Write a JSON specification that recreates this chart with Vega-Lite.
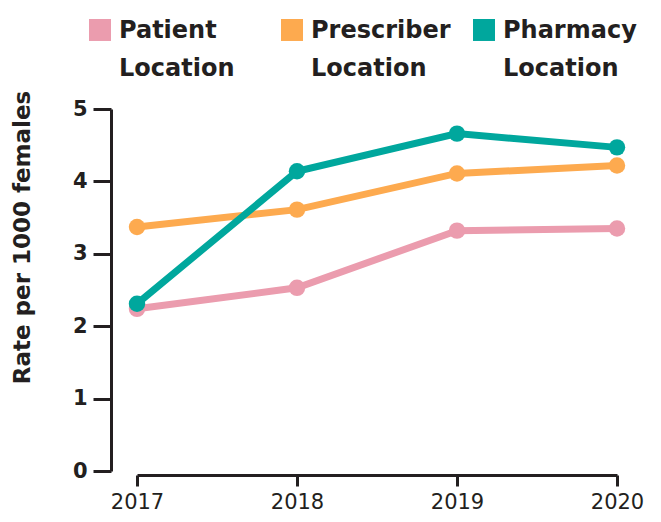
{
  "$schema": "https://vega.github.io/schema/vega-lite/v6.json",
  "width": 480,
  "height": 362,
  "autosize": {"type": "none"},
  "padding": {"left": 137, "top": 109, "right": 44, "bottom": 51},
  "background": "white",
  "config": {
    "view": {"stroke": null},
    "font": "DejaVu Sans",
    "style": {"guide-label": {"lineHeight": 38}}
  },
  "data": {
    "values": [
      {"series": "Patient Location", "year": "2017", "rate": 2.24},
      {"series": "Patient Location", "year": "2018", "rate": 2.53},
      {"series": "Patient Location", "year": "2019", "rate": 3.32},
      {"series": "Patient Location", "year": "2020", "rate": 3.35},
      {"series": "Prescriber Location", "year": "2017", "rate": 3.37},
      {"series": "Prescriber Location", "year": "2018", "rate": 3.61},
      {"series": "Prescriber Location", "year": "2019", "rate": 4.11},
      {"series": "Prescriber Location", "year": "2020", "rate": 4.22},
      {"series": "Pharmacy Location", "year": "2017", "rate": 2.31},
      {"series": "Pharmacy Location", "year": "2018", "rate": 4.14},
      {"series": "Pharmacy Location", "year": "2019", "rate": 4.66},
      {"series": "Pharmacy Location", "year": "2020", "rate": 4.47}
    ]
  },
  "mark": {"type": "line", "strokeWidth": 7, "point": {"filled": true, "size": 270, "opacity": 1}},
  "encoding": {
    "x": {
      "field": "year", "type": "ordinal",
      "scale": {"type": "point", "padding": 0},
      "axis": {
        "title": null, "labelAngle": 0, "offset": 4, "tickSize": 11, "tickWidth": 3, "domainWidth": 3,
        "domainColor": "#231f20", "tickColor": "#231f20", "labelColor": "#231f20",
        "labelFontSize": 21, "labelFontWeight": "normal", "labelPadding": 5, "grid": false
      }
    },
    "y": {
      "field": "rate", "type": "quantitative",
      "scale": {"domain": [0, 5]},
      "axis": {
        "title": "Rate per 1000 females", "values": [0, 1, 2, 3, 4, 5], "grid": false,
        "offset": 26, "tickSize": 18, "tickWidth": 3, "domainWidth": 3,
        "domainColor": "#231f20", "tickColor": "#231f20", "labelColor": "#231f20",
        "labelFontSize": 21, "labelFontWeight": "bold", "labelPadding": 6,
        "titleFontSize": 23, "titleFontWeight": "bold", "titleColor": "#231f20",
        "titleX": -89, "titleY": 128, "titleBaseline": "middle"
      }
    },
    "color": {
      "field": "series", "type": "nominal",
      "scale": {
        "domain": ["Patient Location", "Prescriber Location", "Pharmacy Location"],
        "range": ["#eb9cae", "#fdaa4f", "#00a79d"]
      },
      "legend": {
        "title": null, "orient": "none", "legendX": -49, "legendY": -83,
        "direction": "horizontal", "columns": 3, "gridAlign": "all", "columnPadding": 21,
        "symbolType": "M-1,-1.73H1V0.27H-1Z", "symbolSize": 484, "symbolStrokeWidth": 0, "symbolOpacity": 1,
        "labelFontSize": 24, "labelFontWeight": "bold", "labelColor": "#231f20",
        "labelOffset": 7, "labelBaseline": "alphabetic", "labelLimit": 300,
        "labelExpr": "split(datum.label, ' ')",
        "padding": 0
      }
    }
  }
}
